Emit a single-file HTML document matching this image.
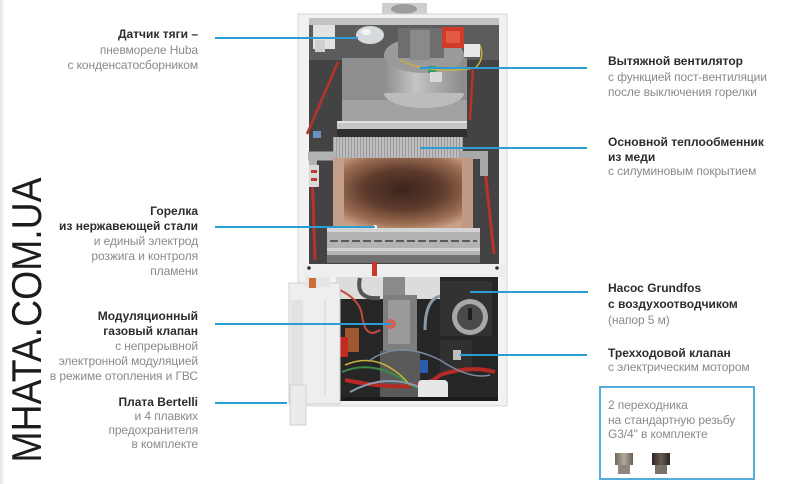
<!DOCTYPE html>
<html><head><meta charset="utf-8">
<style>
html,body{margin:0;padding:0;background:#fff;}
body{width:800px;height:484px;position:relative;overflow:hidden;font-family:"Liberation Sans","DejaVu Sans",sans-serif;}
.lbl{position:absolute;font-size:12px;color:#8a8a8a;white-space:nowrap;letter-spacing:-0.1px;}
.lbl span{display:block;}
.lbl b{display:block;color:#2c2c2c;font-weight:bold;letter-spacing:0;}
.l{text-align:right;right:602px;}
.r{left:608px;text-align:left;}
.ln{position:absolute;height:2px;background:#2a9dd4;}
.wm{position:absolute;left:-143px;top:299px;width:340px;height:42px;line-height:42px;font-size:42px;color:#1c1c1c;text-align:center;white-space:nowrap;transform:rotate(-90deg) scaleX(0.89);transform-origin:50% 50%;}
.box{position:absolute;left:599px;top:386px;width:152px;height:90px;border:2px solid #55aed8;}
</style></head><body>
<div style="position:absolute;left:0;top:0;width:5px;height:484px;background:linear-gradient(90deg,#e4e4e4,#fff);"></div>

<svg width="800" height="484" viewBox="0 0 800 484" style="position:absolute;left:0;top:0">
<defs>
<radialGradient id="cu" cx="50%" cy="45%" r="62%">
<stop offset="0" stop-color="#3a251d"/>
<stop offset="0.45" stop-color="#5e3b2c"/>
<stop offset="0.8" stop-color="#9c6e53"/>
<stop offset="1" stop-color="#c9a086"/>
</radialGradient>
<pattern id="fins" width="3" height="21" patternUnits="userSpaceOnUse">
<rect width="3" height="21" fill="#bebebe"/><rect width="1" height="21" fill="#9a9a9a"/>
</pattern>
<linearGradient id="fan" x1="0" y1="0" x2="1" y2="0">
<stop offset="0" stop-color="#8e8e8e"/><stop offset="0.4" stop-color="#c4c4c4"/><stop offset="1" stop-color="#8a8a8a"/>
</linearGradient>
<linearGradient id="nut1" x1="0" y1="0" x2="1" y2="0">
<stop offset="0" stop-color="#6f665e"/><stop offset="0.5" stop-color="#b3a99c"/><stop offset="1" stop-color="#6a6058"/>
</linearGradient>
<linearGradient id="nut2" x1="0" y1="0" x2="1" y2="0">
<stop offset="0" stop-color="#2d2522"/><stop offset="0.5" stop-color="#6a5c55"/><stop offset="1" stop-color="#2a2320"/>
</linearGradient>
</defs>

<!-- flue -->
<rect x="382" y="3" width="45" height="13" fill="#cfcfcf"/>
<ellipse cx="404" cy="9" rx="13" ry="5" fill="#9c9c9c"/>
<!-- casing -->
<rect x="298" y="14" width="209" height="392" fill="#f2f2f2" stroke="#d6d6d6"/>
<!-- upper chamber -->
<rect x="309" y="18" width="190" height="249" fill="#434343"/>
<rect x="309" y="18" width="190" height="7" fill="#c2c2c2"/>
<rect x="309" y="25" width="190" height="35" fill="#5c5c5c"/>
<rect x="342" y="58" width="125" height="64" fill="#8e8e8e"/>
<rect x="342" y="100" width="125" height="22" fill="#a2a2a2"/>
<!-- top left white part and bubble -->
<rect x="313" y="25" width="22" height="24" fill="#e2e2e2"/>
<rect x="315" y="40" width="10" height="12" fill="#cfcfcf"/>
<ellipse cx="370" cy="35" rx="14" ry="9" fill="#d5dadd"/>
<ellipse cx="366" cy="32" rx="5" ry="3" fill="#f2f4f5"/>
<!-- fan -->
<ellipse cx="424" cy="93" rx="40" ry="15" fill="#bcbcbc"/>
<rect x="384" y="55" width="80" height="38" fill="url(#fan)"/>
<ellipse cx="424" cy="55" rx="40" ry="18" fill="#9a9a9a"/>
<rect x="398" y="28" width="46" height="30" fill="#6e6e6e"/>
<rect x="410" y="30" width="20" height="30" fill="#8a8a8a"/>
<rect x="428" y="66" width="8" height="7" fill="#2a9d6a"/>
<rect x="430" y="72" width="12" height="10" fill="#d8d8d8"/>
<path d="M400 60 Q430 75 475 68 Q485 60 480 45" stroke="#c8b040" stroke-width="1.5" fill="none"/>
<!-- red component -->
<rect x="442" y="27" width="22" height="21" fill="#cf3a2a"/>
<rect x="446" y="31" width="14" height="12" fill="#e25a45"/>
<rect x="464" y="44" width="16" height="13" fill="#e8e8e8"/>
<!-- red wires upper -->
<path d="M338 62 L307 134" stroke="#b8342a" stroke-width="2.5" fill="none"/>
<path d="M312 168 L315 260" stroke="#b8342a" stroke-width="3" fill="none"/>
<path d="M473 68 L470 120" stroke="#b8342a" stroke-width="2.5" fill="none"/>
<path d="M484 160 L494 254" stroke="#b8342a" stroke-width="3" fill="none"/>
<!-- bar above HX -->
<rect x="337" y="121" width="130" height="8" fill="#c6c6c6"/>
<rect x="337" y="121" width="130" height="2" fill="#e2e2e2"/>
<rect x="337" y="129" width="130" height="8" fill="#2f2f2f"/>
<!-- fins -->
<rect x="333" y="137" width="130" height="21" fill="url(#fins)"/>
<!-- side pipes -->
<path d="M308 156 H336" stroke="#b2b2b2" stroke-width="9" fill="none"/>
<path d="M313 156 V172" stroke="#b2b2b2" stroke-width="8" fill="none"/>
<path d="M460 155 H484 V176" stroke="#a8a8a8" stroke-width="8" fill="none"/>
<rect x="309" y="165" width="10" height="22" fill="#d8d8d8"/>
<rect x="311" y="170" width="6" height="3" fill="#c23a2c"/>
<rect x="311" y="178" width="6" height="3" fill="#c23a2c"/>
<rect x="313" y="131" width="8" height="7" fill="#6a8fc0"/>
<!-- copper HX -->
<rect x="333" y="158" width="140" height="70" fill="url(#cu)"/>
<rect x="333" y="158" width="11" height="70" fill="#c4a08a"/>
<rect x="462" y="158" width="11" height="70" fill="#c09a82"/>
<!-- burner -->
<rect x="327" y="228" width="153" height="35" fill="#b3b3b5"/>
<rect x="327" y="228" width="153" height="4" fill="#d4d4d4"/>
<path d="M330 241 H477" stroke="#5a5a5a" stroke-width="2" stroke-dasharray="8 3"/>
<rect x="327" y="248" width="153" height="3" fill="#d2d2d2"/>
<rect x="327" y="255" width="153" height="8" fill="#707070"/>
<circle cx="375" cy="227" r="2" fill="#fff"/>
<!-- white band -->
<rect x="303" y="264" width="202" height="13" fill="#eeeeee"/>
<circle cx="309" cy="268" r="1.8" fill="#333"/>
<circle cx="497" cy="268" r="1.8" fill="#333"/>
<rect x="372" y="262" width="5" height="14" fill="#c9392b"/>

<!-- lower chamber -->
<rect x="336" y="277" width="162" height="124" fill="#262626"/>
<rect x="336" y="277" width="104" height="22" fill="#dcdcdc"/>
<path d="M360 278 Q355 300 380 298" stroke="#555" stroke-width="4" fill="none"/>
<path d="M440 296 Q425 300 425 330" stroke="#8a9aa6" stroke-width="3" fill="none"/>
<rect x="383" y="277" width="22" height="18" fill="#8a8a8a"/>
<rect x="383" y="295" width="34" height="56" fill="#7e7e7e"/>
<rect x="388" y="300" width="22" height="44" fill="#9a9a9a"/>
<circle cx="391" cy="324" r="5" fill="#d36050"/>
<rect x="380" y="351" width="40" height="48" fill="#5a5a5a"/>
<!-- pump -->
<rect x="440" y="281" width="52" height="55" fill="#323232"/>
<circle cx="470" cy="317" r="18" fill="#a8a8a8"/>
<circle cx="470" cy="317" r="13" fill="#4a4a4a"/>
<rect x="468" y="308" width="4" height="12" fill="#1e1e1e"/>
<!-- 3-way valve motor -->
<rect x="440" y="340" width="32" height="32" fill="#303030"/>
<rect x="453" y="350" width="8" height="10" fill="#bdbdbd"/>
<rect x="420" y="360" width="8" height="13" fill="#2a5db0"/>
<!-- left parts -->
<rect x="345" y="328" width="14" height="24" fill="#a0582e"/>
<rect x="340" y="337" width="8" height="20" fill="#c22a22"/>
<!-- wires -->
<path d="M340 290 Q360 300 362 315 Q365 340 380 330" stroke="#c54a3e" stroke-width="2" fill="none"/>
<path d="M345 380 Q420 395 440 375 Q470 365 495 372" stroke="#b52a24" stroke-width="4" fill="none"/>
<path d="M342 372 Q370 360 400 378 Q420 395 445 388" stroke="#3c8a4a" stroke-width="2" fill="none"/>
<path d="M345 365 Q380 350 410 385" stroke="#c8b53a" stroke-width="1.5" fill="none"/>
<path d="M350 392 Q390 370 430 392" stroke="#8a9ab0" stroke-width="2" fill="none"/>
<path d="M370 360 Q400 340 440 360 Q470 380 490 375" stroke="#7a8aa2" stroke-width="1.5" fill="none"/>
<rect x="418" y="380" width="30" height="20" rx="4" fill="#e6e6e6"/>
<rect x="336" y="397" width="162" height="4" fill="#1a1a1a"/>
<!-- control box (white) -->
<rect x="289" y="283" width="51" height="121" fill="#eeeeee" stroke="#d0d0d0"/>
<rect x="305" y="277" width="25" height="10" fill="#e6e6e6"/>
<rect x="309" y="278" width="7" height="10" fill="#c9703a"/>
<rect x="291" y="300" width="12" height="100" fill="#e2e2e2"/>
<rect x="290" y="385" width="16" height="40" fill="#ebebeb" stroke="#d2d2d2"/>
<path d="M325 300 V395" stroke="#d6d6d6" stroke-width="1"/>

<!-- fittings -->
<rect x="615" y="453" width="18" height="12" fill="url(#nut1)"/>
<rect x="618" y="465" width="12" height="9" fill="#8d877e"/>
<rect x="652" y="453" width="18" height="12" fill="url(#nut2)"/>
<rect x="655" y="465" width="12" height="9" fill="#7a736c"/>
</svg>

<div class="ln" style="left:215px;top:37px;width:143px"></div>
<div class="ln" style="left:420px;top:67px;width:167px"></div>
<div class="ln" style="left:420px;top:147px;width:167px"></div>
<div class="ln" style="left:215px;top:226px;width:160px"></div>
<div class="ln" style="left:215px;top:323px;width:177px"></div>
<div class="ln" style="left:215px;top:402px;width:72px"></div>
<div class="ln" style="left:470px;top:291px;width:118px"></div>
<div class="ln" style="left:460px;top:354px;width:127px"></div>

<div class="wm">MHATA.COM.UA</div>

<div class="lbl l" style="top:27px;line-height:15.5px"><b>Датчик тяги –</b><span>пневмореле Huba</span><span>с конденсатосборником</span></div>
<div class="lbl l" style="top:204px;line-height:15px"><b>Горелка</b><b>из нержавеющей стали</b><span>и единый электрод</span><span>розжига и контроля</span><span>пламени</span></div>
<div class="lbl l" style="top:309px;line-height:15px"><b>Модуляционный</b><b>газовый клапан</b><span>с непрерывной</span><span>электронной модуляцией</span><span>в режиме отопления и ГВС</span></div>
<div class="lbl l" style="top:395px;line-height:14px"><b>Плата Bertelli</b><span>и 4 плавких</span><span>предохранителя</span><span>в комплекте</span></div>

<div class="lbl r" style="top:54px;line-height:15.5px"><b>Вытяжной вентилятор</b><span>с функцией пост-вентиляции</span><span>после выключения горелки</span></div>
<div class="lbl r" style="top:135px;line-height:14.5px"><b>Основной теплообменник</b><b>из меди</b><span>с силуминовым покрытием</span></div>
<div class="lbl r" style="top:280px;line-height:16px"><b>Насос Grundfos</b><b>с воздухоотводчиком</b><span>(напор 5 м)</span></div>
<div class="lbl r" style="top:346px;line-height:14px"><b>Трехходовой клапан</b><span>с электрическим мотором</span></div>

<div class="box"></div>
<div class="lbl r" style="top:398px;line-height:14.5px"><span>2 переходника</span><span>на стандартную резьбу</span><span>G3/4" в комплекте</span></div>
</body></html>
